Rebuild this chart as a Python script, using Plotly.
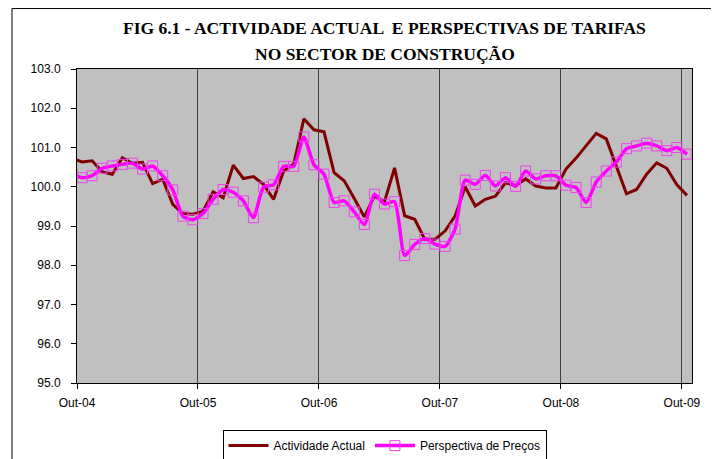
import plotly.graph_objects as go

# Monthly observations, Set-04 .. Out-09
years = ["04", "05", "06", "07", "08", "09"]
month_names = ["Jan", "Fev", "Mar", "Abr", "Mai", "Jun", "Jul", "Ago", "Set", "Out", "Nov", "Dez"]
months = []
for y in years:
    for m in month_names:
        months.append(f"{m}-{y}")
months = months[months.index("Set-04"):months.index("Out-09") + 1]

actividade = [100.73, 100.63, 100.66, 100.38, 100.32, 100.74, 100.60, 100.62, 100.08, 100.19,
              99.55, 99.32, 99.30, 99.38, 99.87, 99.72, 100.55, 100.21, 100.26, 100.06,
              99.68, 100.40, 100.58, 101.73, 101.45, 101.40, 100.36, 100.15, 99.70, 99.23,
              99.76, 99.62, 100.48, 99.26, 99.17, 98.66, 98.66, 98.87, 99.25, 100.00,
              99.51, 99.68, 99.76, 100.10, 100.03, 100.20, 100.02, 99.97, 99.97, 100.45,
              100.73, 101.06, 101.36, 101.22, 100.53, 99.82, 99.93, 100.32, 100.61, 100.47,
              100.05, 99.78]

precos = [100.34, 100.23, 100.28, 100.47, 100.53, 100.57, 100.60, 100.45, 100.53, 100.28,
          99.92, 99.25, 99.16, 99.32, 99.68, 99.93, 99.86, 99.64, 99.21, 99.99,
          100.05, 100.52, 100.52, 101.27, 100.56, 100.32, 99.60, 99.64, 99.36, 99.04,
          99.81, 99.56, 99.62, 98.25, 98.53, 98.68, 98.54, 98.48, 98.92, 100.17,
          100.06, 100.29, 100.02, 100.23, 100.01, 100.40, 100.20, 100.28, 100.28, 100.04,
          99.98, 99.60, 100.12, 100.40, 100.63, 100.97, 101.04, 101.11, 101.04, 100.92,
          101.00, 100.83]

tick_labels = ["Out-04", "Out-05", "Out-06", "Out-07", "Out-08", "Out-09"]
y_ticks = [95, 96, 97, 98, 99, 100, 101, 102, 103]

x = list(range(len(months)))
tickvals = [months.index(t) - 0.5 for t in tick_labels]

fig = go.Figure()
fig.add_trace(go.Scatter(
    x=x, y=actividade, name="Actividade Actual", mode="lines",
    line=dict(color="#800000", width=3),
    text=months, hovertemplate="%{text}: %{y:.2f}<extra></extra>",
))
fig.add_trace(go.Scatter(
    x=x, y=precos, name="Perspectiva de Preços", mode="lines+markers",
    line=dict(color="#FF00FF", width=3.5, shape="spline", smoothing=0.6),
    marker=dict(symbol="square-open", size=10, color="#F040F0", line=dict(width=1, color="#F040F0")),
    text=months, hovertemplate="%{text}: %{y:.2f}<extra></extra>",
))

axis_font = dict(family="Liberation Sans, Arial, sans-serif", size=12, color="#000000")
title_font = dict(family="Liberation Serif, Times New Roman, serif", size=17.5, color="#000000")

fig.update_layout(
    width=711, height=451,
    margin=dict(l=69, r=27, t=61, b=76, autoexpand=False),
    paper_bgcolor="#FFFFFF",
    plot_bgcolor="#C0C0C0",
    showlegend=True,
    legend=dict(
        orientation="h", x=0.5, xanchor="center", y=-0.15, yanchor="top",
        bordercolor="#000000", borderwidth=1, bgcolor="#FFFFFF",
        font=dict(family="Liberation Sans, Arial, sans-serif", size=12, color="#000000"),
        itemwidth=40, tracegroupgap=0,
    ),
    xaxis=dict(
        range=[0.5, len(months) - 0.5],
        tickmode="array", tickvals=tickvals, ticktext=tick_labels,
        ticks="outside", ticklen=5, tickcolor="#000000",
        showgrid=True, gridcolor="#404040", gridwidth=1,
        showline=True, linecolor="#000000", linewidth=1, mirror=True,
        zeroline=False, tickfont=axis_font, ticklabelstandoff=4, automargin=False,
    ),
    yaxis=dict(
        range=[95, 103],
        tickmode="array", tickvals=y_ticks, ticktext=[f"{v:.1f}" for v in y_ticks],
        ticks="outside", ticklen=5, tickcolor="#000000",
        showgrid=False,
        showline=True, linecolor="#000000", linewidth=1, mirror=True,
        zeroline=False, tickfont=axis_font, ticklabelstandoff=8, automargin=False,
    ),
    annotations=[
        dict(text="<b>FIG 6.1 - ACTIVIDADE ACTUAL  E PERSPECTIVAS DE TARIFAS</b>",
             xref="paper", yref="paper", x=0.5, y=1.129, xanchor="center", yanchor="middle",
             showarrow=False, font=title_font),
        dict(text="<b>NO SECTOR DE CONSTRUÇÃO</b>",
             xref="paper", yref="paper", x=0.5, y=1.049, xanchor="center", yanchor="middle",
             showarrow=False, font=title_font),
    ],
    shapes=[
        dict(type="line", xref="paper", yref="paper", x0=-0.1057, x1=1.05, y0=1.1925, y1=1.1925,
             line=dict(color="#000000", width=1)),
        dict(type="line", xref="paper", yref="paper", x0=-0.1057, x1=-0.1057, y0=1.1925, y1=-0.26,
             line=dict(color="#000000", width=1)),
    ],
)

fig.write_html("out.html")
